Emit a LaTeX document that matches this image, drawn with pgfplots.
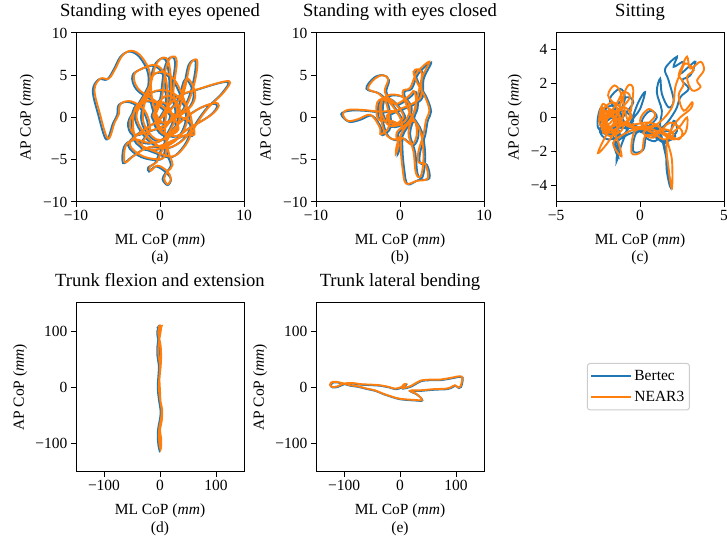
\documentclass[border=0pt]{standalone}
\usepackage{fontspec}
\setmainfont{Liberation Serif}
\usepackage{pgfplots}
\pgfplotsset{compat=1.18}
\definecolor{cB}{HTML}{1F77B4}
\definecolor{cN}{HTML}{FF7F0E}
\newcommand{\fnt}{\fontsize{15.5}{18}\selectfont}
\pgfplotsset{
  cop/.style={
    scale only axis, width=168pt, height=169pt, anchor=south west,
    tick align=outside, tick pos=left, major tick length=5pt,
    every tick/.style={black, line width=1pt},
    axis line style={line width=1pt},
    tick label style={font=\fnt},
    label style={font=\fnt},
    title style={font=\fontsize{18.6}{22}\selectfont, at={(0.5,1)}, anchor=base, yshift=10pt},
    xlabel={ML CoP (\textit{mm})},
    ylabel={AP CoP (\textit{mm})},
    xlabel style={at={(axis description cs:0.5,0)}, anchor=base, yshift=-43pt},
    ylabel style={anchor=center},
  },
  sub/.style={after end axis/.append code={\node[font=\fnt, anchor=base] at (rel axis cs:0.5,0) [yshift=-60pt] {#1};}},
  bert/.style={color=cB, line width=1.9pt, smooth, tension=0.6, no markers},
  near/.style={color=cN, line width=1.9pt, smooth, tension=0.6, no markers},
}
\begin{document}
\begin{tikzpicture}
\useasboundingbox (0pt,0pt) rectangle (727pt,537pt);
% (a)
\begin{axis}[cop, at={(76pt,335pt)}, title={Standing with eyes opened},
  xmin=-10, xmax=10, ymin=-10, ymax=10,
  xtick={-10,0,10}, xticklabels={−10,0,10},
  ytick={-10,-5,0,5,10}, yticklabels={−10,−5,0,5,10},
  ylabel style={at={(axis description cs:-0.292,0.5)}}, sub={(a)}]
\addplot[bert] coordinates {
(0.1,0.1) (1.0,1.7) (1.1,4.4) (0.8,6.5) (0.2,7.0) (-0.7,6.1) (-1.4,3.7) (-2.7,1.4) (-3.8,-0.6) (-3.2,-2.1)
(-1.4,-1.7) (0.6,-0.9) (2.4,0.5) (3.4,2.3) (4.1,4.9) (4.2,6.7) (3.4,6.2) (2.8,3.5) (1.8,0.1) (0.4,-2.5)
(-1.4,-3.1) (-3.2,-2.7) (-4.3,-3.5) (-4.4,-5.4) (-3.4,-4.7) (-1.8,-3.7) (0.0,-3.4) (1.6,-2.7) (3.1,-2.1) (3.9,-2.1)
(3.4,-0.6) (1.0,0.5) (-0.8,1.9) (-2.8,3.3) (-3.3,4.9) (-2.3,5.7) (-0.7,6.1) (0.4,4.9) (0.7,1.9) (0.4,-1.3)
(0.8,-4.1) (1.3,-5.7) (0.7,-6.5) (0.3,-7.3) (0.9,-8.0) (1.3,-7.3) (0.6,-6.4) (-0.5,-5.8) (-1.3,-6.4) (-1.4,-5.9)
(-0.6,-5.4) (0.0,-4.1) (1.6,-1.3) (4.2,0.8) (6.2,1.6) (6.8,1.3) (5.9,0.2) (3.4,-1.3) (1.6,-2.3) (-0.4,-1.1)
(1.6,2.1) (4.8,3.4) (8.0,4.2) (7.4,2.9) (5.4,0.9) (3.9,-1.3) (2.9,-3.3) (1.4,-4.7) (-0.6,-4.2) (-2.8,-3.1)
(-3.4,-1.1) (-3.1,1.1) (-1.7,2.5) (-1.4,5.1) (-2.4,7.1) (-3.6,7.8) (-4.7,7.2) (-5.5,5.7) (-6.3,4.5) (-7.3,4.5)
(-8.0,3.2) (-7.4,0.5) (-6.4,-2.6) (-5.6,-0.7) (-5.1,0.3) (-4.9,1.5) (-3.6,1.8) (-2.0,0.7) (-1.4,-1.5) (-2.4,-3.4)
(-0.8,-3.9) (1.3,-3.1) (2.6,-1.7) (3.1,0.3) (2.4,2.7) (1.4,4.5) (0.0,5.3) (-1.2,4.5) (-1.0,1.4) (0.1,-0.7)
(1.8,0.3) (1.4,2.9) (1.8,6.5) (1.2,7.1) (0.5,5.7) (0.0,2.1) (-0.8,-0.3) (0.3,-2.1) (2.0,-1.5) (0.8,0.7)
(-1.7,1.9) (-3.0,0.1) (-1.8,-2.3) (0.3,-3.7) (2.4,-2.9) (3.6,-1.1) (2.8,1.5) (0.6,3.1) (-1.6,2.5) (-2.2,-0.5)
(-0.6,-2.7) (1.4,-1.9) (2.2,0.7) (0.8,2.5) (-0.8,0.9) (0.0,-1.5) (1.2,0.1) (0.2,1.7) (-1.0,0.1) (0.4,-0.7)
(3.2,0.9) (4.0,2.7) (3.0,4.5) (2.0,1.9) (-0.2,-0.3) (-2.6,-1.9) (-3.8,-3.3) (-2.2,-4.7) (0.2,-4.9) (0.6,-2.9)
};
\addplot[near] coordinates {
(0.3,0.2) (1.2,1.8) (1.3,4.5) (1.0,6.6) (0.4,7.1) (-0.5,6.2) (-1.2,3.8) (-2.5,1.5) (-3.6,-0.5) (-3.0,-2.0)
(-1.2,-1.6) (0.8,-0.8) (2.6,0.6) (3.6,2.4) (4.3,5.0) (4.4,6.8) (3.6,6.3) (3.0,3.6) (2.0,0.2) (0.6,-2.4)
(-1.2,-3.0) (-3.0,-2.6) (-4.1,-3.4) (-4.2,-5.3) (-3.2,-4.6) (-1.6,-3.6) (0.2,-3.3) (1.8,-2.6) (3.3,-2.0) (4.1,-2.0)
(3.6,-0.5) (1.2,0.6) (-0.6,2.0) (-2.6,3.4) (-3.1,5.0) (-2.1,5.8) (-0.5,6.2) (0.6,5.0) (0.9,2.0) (0.6,-1.2)
(1.0,-4.0) (1.5,-5.6) (0.9,-6.4) (0.5,-7.2) (0.9,-7.9) (1.3,-7.2) (0.8,-6.3) (-0.3,-5.7) (-1.1,-6.3) (-1.2,-5.8)
(-0.4,-5.3) (0.2,-4.0) (1.8,-1.2) (4.4,0.9) (6.4,1.7) (7.0,1.4) (6.1,0.3) (3.6,-1.2) (1.8,-2.2) (-0.2,-1.0)
(1.8,2.2) (5.0,3.5) (8.2,4.3) (7.6,3.0) (5.6,1.0) (4.1,-1.2) (3.1,-3.2) (1.6,-4.6) (-0.4,-4.1) (-2.6,-3.0)
(-3.2,-1.0) (-2.9,1.2) (-1.5,2.6) (-1.2,5.2) (-2.2,7.2) (-3.4,7.9) (-4.5,7.3) (-5.3,5.8) (-6.1,4.6) (-7.1,4.6)
(-7.8,3.3) (-7.2,0.6) (-6.2,-2.5) (-5.4,-0.6) (-4.9,0.4) (-4.7,1.6) (-3.4,1.9) (-1.8,0.8) (-1.2,-1.4) (-2.2,-3.3)
(-0.6,-3.8) (1.5,-3.0) (2.8,-1.6) (3.3,0.4) (2.6,2.8) (1.6,4.6) (0.2,5.4) (-1.0,4.6) (-0.8,1.5) (0.3,-0.6)
(2.0,0.4) (1.6,3.0) (2.0,6.6) (1.4,7.2) (0.7,5.8) (0.2,2.2) (-0.6,-0.2) (0.5,-2.0) (2.2,-1.4) (1.0,0.8)
(-1.5,2.0) (-2.8,0.2) (-1.6,-2.2) (0.5,-3.6) (2.6,-2.8) (3.8,-1.0) (3.0,1.6) (0.8,3.2) (-1.4,2.6) (-2.0,-0.4)
(-0.4,-2.6) (1.6,-1.8) (2.4,0.8) (1.0,2.6) (-0.6,1.0) (0.2,-1.4) (1.4,0.2) (0.4,1.8) (-0.8,0.2) (0.6,-0.6)
(3.4,1.0) (4.2,2.8) (3.2,4.6) (2.2,2.0) (0.0,-0.2) (-2.4,-1.8) (-3.6,-3.2) (-2.0,-4.6) (0.4,-4.8) (0.8,-2.8)
};
\end{axis}
% (b)
\begin{axis}[cop, at={(316pt,335pt)}, title={Standing with eyes closed},
  xmin=-10, xmax=10, ymin=-10, ymax=10,
  xtick={-10,0,10}, xticklabels={−10,0,10},
  ytick={-10,-5,0,5,10}, yticklabels={−10,−5,0,5,10},
  ylabel style={at={(axis description cs:-0.292,0.5)}}, sub={(b)}]
\addplot[bert] coordinates {
(0.2,-0.1) (-0.8,1.4) (-1.8,2.1) (-2.0,0.4) (-1.0,-1.1) (0.7,-0.6) (1.4,1.1) (0.4,2.4) (-1.3,2.5) (-2.2,1.1)
(-1.6,-1.9) (-0.3,-2.7) (0.5,-1.6) (-0.2,0.5) (-2.3,0.6) (-4.3,0.8) (-6.0,0.8) (-7.0,0.4) (-6.1,-0.5) (-4.8,-0.3)
(-3.3,0.2) (-2.2,-1.3) (-2.1,-2.1) (-1.1,-1.1) (-1.4,1.5) (-2.4,2.8) (-4.0,3.4) (-3.1,4.7) (-2.0,5.0) (-1.3,4.4)
(-1.6,2.9) (-0.4,1.5) (1.2,2.4) (1.9,3.0) (2.1,1.1) (1.2,-0.6) (-0.2,-1.9) (0.0,-3.4) (-0.3,-4.4) (-0.1,-3.1)
(0.8,-1.3) (1.9,-0.5) (2.2,-2.1) (1.6,-3.3) (0.4,-2.5) (0.3,-3.9) (0.5,-6.1) (0.9,-7.9) (2.2,-7.4) (3.5,-7.2)
(3.2,-5.6) (2.4,-5.4) (2.4,-4.1) (3.0,-2.1) (3.3,-0.4) (3.7,0.7) (3.2,2.3) (2.3,3.9) (1.8,5.3) (2.4,5.6)
(2.8,4.9) (2.4,2.9) (1.8,0.3) (1.2,-1.9) (1.8,-4.1) (2.1,-6.7) (2.7,-7.0) (3.0,-4.6) (2.6,-1.7) (1.4,0.4)
(0.5,2.9) (1.4,3.4) (2.2,5.2) (3.7,6.5) (2.8,4.5) (2.7,2.4) (1.6,1.5) (0.2,0.9) (-1.4,0.1) (-0.6,-0.9)
(0.6,-0.1) (0.0,1.1) (-1.2,2.2) (-2.5,1.7) (-2.4,-0.3) (-0.8,-0.5) (0.4,-1.1)
};
\addplot[near] coordinates {
(0.0,0.0) (-1.0,1.5) (-2.0,2.2) (-2.2,0.5) (-1.2,-1.0) (0.5,-0.5) (1.2,1.2) (0.2,2.5) (-1.5,2.6) (-2.4,1.2)
(-1.8,-1.8) (-0.5,-2.6) (0.3,-1.5) (-0.4,0.6) (-2.5,0.7) (-4.5,0.9) (-6.2,0.9) (-6.8,0.4) (-6.2,-0.4) (-5.0,-0.2)
(-3.5,0.3) (-2.4,-1.2) (-2.3,-2.0) (-1.3,-1.0) (-1.6,1.6) (-2.5,2.8) (-3.8,3.4) (-3.0,4.6) (-2.0,5.0) (-1.4,4.5)
(-1.8,3.0) (-0.6,1.6) (1.0,2.5) (1.7,3.1) (1.9,1.2) (1.0,-0.5) (-0.4,-1.8) (-0.2,-3.3) (-0.5,-4.3) (-0.3,-3.0)
(0.6,-1.2) (1.7,-0.4) (2.0,-2.0) (1.4,-3.2) (0.2,-2.4) (0.1,-3.8) (0.3,-6.0) (0.7,-7.8) (2.0,-7.5) (3.3,-7.2)
(3.0,-5.5) (2.2,-5.3) (2.2,-4.0) (2.8,-2.0) (3.1,-0.3) (3.5,0.8) (3.0,2.4) (2.1,4.0) (1.6,5.4) (2.2,5.7)
(2.6,5.0) (2.2,3.0) (1.6,0.4) (1.0,-1.8) (1.6,-4.0) (1.9,-6.6) (2.5,-6.9) (2.8,-4.5) (2.4,-1.6) (1.2,0.5)
(0.3,3.0) (1.2,3.5) (2.0,5.3) (3.5,6.6) (2.6,4.6) (2.5,2.5) (1.4,1.6) (0.0,1.0) (-1.6,0.2) (-0.8,-0.8)
(0.4,0.0) (-0.2,1.2) (-1.4,2.3) (-2.7,1.8) (-2.6,-0.2) (-1.0,-0.4) (0.2,-1.0)
};
\end{axis}
% (c)
\begin{axis}[cop, at={(556pt,335pt)}, title={Sitting},
  xmin=-5, xmax=5, ymin=-5, ymax=5,
  xtick={-5,0,5}, xticklabels={−5,0,5},
  ytick={-4,-2,0,2,4}, yticklabels={−4,−2,0,2,4},
  ylabel style={at={(axis description cs:-0.244,0.5)}}, sub={(c)}]
\addplot[bert] coordinates {
(-1.6,-0.1) (-2.3,0.6) (-2.5,-0.6) (-1.7,-1.0) (-1.1,0.1) (-1.7,0.7) (-2.4,0.1) (-2.1,-0.9) (-1.3,-0.6) (-1.5,0.5)
(-1.8,1.1) (-1.2,1.7) (-0.9,1.1) (-1.4,-0.3) (-1.3,-1.5) (-1.4,-2.6) (-1.1,-1.6) (-0.6,-0.4) (-0.1,0.9) (0.3,1.5)
(0.0,0.5) (-0.5,-0.3) (0.3,-0.6) (1.0,0.0) (0.6,0.4) (0.1,-0.3) (0.8,-1.0) (1.6,-0.8) (2.1,-1.1) (1.5,-1.4)
(0.7,-0.9) (-0.2,-0.9) (-0.4,-2.0) (0.2,-1.9) (0.4,-1.0) (1.1,-1.1) (1.5,-1.8) (1.6,-3.2) (1.8,-4.1) (1.6,-2.6)
(1.2,-0.6) (1.3,0.4) (1.0,1.5) (1.2,2.3) (1.3,1.4) (1.7,0.6) (2.0,1.0) (1.7,2.2) (1.5,2.9) (2.2,3.6)
(2.0,3.0) (2.6,3.3) (2.4,2.6) (2.9,3.0) (3.3,3.3) (3.0,2.5) (2.5,2.2) (2.9,1.7) (2.4,1.2) (2.1,0.4)
(1.3,-0.6) (0.3,-0.7) (-0.7,-1.0) (-1.5,-1.6) (-1.3,-2.3) (-1.6,-1.1) (-2.2,-0.3) (-2.3,0.5) (-1.7,0.0) (-1.3,-0.3)
(-2.0,-1.0) (-1.9,0.3) (-1.2,-1.0) (-2.1,-0.5) (-1.4,0.3) (-0.8,-0.8) (-1.9,-1.3) (-2.4,-0.7) (-1.7,0.0) (-1.0,0.4)
(-0.4,-0.2) (-1.2,-0.6) (-0.2,-0.6) (0.6,-0.5) (1.3,-0.8) (0.9,-1.4) (0.3,-1.1) (1.1,-0.7) (1.7,-1.2) (2.2,-0.8)
(2.0,-0.2) (1.6,-1.5) (0.8,-1.1) (-0.1,-0.8) (-1.0,-0.3) (-1.8,0.2) (-2.3,-0.2) (-1.5,-0.6) (-0.9,0.2) (-0.4,0.9)
(-0.8,1.2) (-1.5,0.6) (-2.1,-0.2)
};
\addplot[near] coordinates {
(-1.5,0.0) (-2.2,0.8) (-2.4,-0.4) (-1.6,-0.9) (-1.0,0.2) (-1.6,0.9) (-2.3,0.3) (-2.0,-0.7) (-1.2,-0.5) (-1.4,0.6)
(-1.9,1.3) (-1.5,1.9) (-1.1,1.2) (-1.5,-0.2) (-2.1,-1.2) (-2.5,-2.1) (-2.0,-1.6) (-1.3,-0.6) (-0.7,-0.2) (-0.4,1.6)
(-0.7,1.9) (-1.0,1.0) (-0.6,-0.4) (0.2,-0.5) (0.9,0.1) (0.5,0.5) (0.0,-0.2) (0.7,-0.9) (1.5,-0.7) (2.0,-1.0)
(1.4,-1.3) (0.6,-0.8) (-0.3,-0.8) (-0.5,-2.1) (0.1,-2.0) (0.3,-1.1) (1.0,-1.0) (1.8,-0.3) (2.5,-0.8) (2.3,-1.3)
(1.6,-1.1) (1.9,-2.5) (1.9,-4.2) (1.7,-3.0) (1.6,-1.4) (2.2,-0.2) (3.0,0.5) (3.1,0.9) (2.6,0.4) (2.3,1.3)
(2.6,2.0) (2.3,2.5) (2.5,3.0) (2.8,3.6) (3.0,2.9) (3.6,3.3) (3.8,2.8) (3.4,2.2) (3.6,1.8) (3.1,1.6)
(2.8,2.4) (3.2,2.8) (2.7,3.2) (2.4,2.6) (2.1,1.8) (1.9,0.6) (1.0,-0.4) (0.0,-0.6) (-0.8,-0.9) (-1.6,-1.5)
(-1.1,-2.3) (-1.4,-1.2) (-2.1,-0.2) (-2.3,0.6) (-1.8,0.1) (-1.2,-0.2) (-1.9,-0.6) (-2.4,0.1) (-1.7,0.4) (-1.2,0.1)
(-1.6,-0.4) (-2.2,-0.9) (-1.8,0.5) (-1.3,-0.9) (-2.0,-0.3) (-1.5,0.4) (-1.0,-0.6) (-1.8,-1.1) (-2.3,-0.5) (-1.6,0.2)
(-0.9,0.6) (-0.5,0.0) (-1.1,-0.4) (-0.3,-0.4) (0.5,-0.3) (1.2,-0.6) (0.8,-1.2) (0.2,-0.9) (1.0,-0.5) (1.6,-1.0)
(2.3,-0.6) (2.8,0.0) (2.7,-0.9) (2.0,-1.3) (1.2,-0.9) (0.4,-0.6) (-0.5,-0.6) (-1.4,-0.1) (-2.1,0.4) (-1.9,-0.4)
(-1.3,0.3) (-0.6,1.2) (-1.0,1.5) (-1.4,0.8) (-2.0,0.0)
};
\end{axis}
% (d)
\begin{axis}[cop, at={(76pt,65pt)}, title={Trunk flexion and extension},
  xmin=-150, xmax=150, ymin=-150, ymax=150,
  xtick={-100,0,100}, xticklabels={−100,0,100},
  ytick={-100,0,100}, yticklabels={−100,0,100},
  ylabel style={at={(axis description cs:-0.333,0.5)}}, sub={(d)}]
\addplot[bert] coordinates {
(-5,105) (-2,109) (0,107) (-1,97) (-4,79) (-5,59) (-2,39) (-3,19) (-4,-1) (-2,-21) (1,-41) (0,-56) (-3,-71)
(-4,-86) (-3,-101) (-1,-111) (0,-105) (0,-91) (-2,-76) (1,-61) (2,-41) (-1,-26) (-2,-6) (-3,14) (-1,34)
(0,54) (-1,74) (-4,89) (-5,99) (-2,107) (1,108) (-1,103)
};
\addplot[near] coordinates {
(-3,106) (0,110) (2,108) (1,98) (-2,80) (-3,60) (0,40) (-1,20) (-2,0) (0,-20) (3,-40) (2,-55) (-1,-70)
(-2,-85) (-1,-100) (1,-110) (2,-104) (2,-90) (0,-75) (3,-60) (4,-40) (1,-25) (0,-5) (-1,15) (1,35)
(2,55) (1,75) (-2,90) (-3,100) (0,108) (3,109) (1,104)
};
\end{axis}
% (e)
\begin{axis}[cop, at={(316pt,65pt)}, title={Trunk lateral bending},
  xmin=-150, xmax=150, ymin=-150, ymax=150,
  xtick={-100,0,100}, xticklabels={−100,0,100},
  ytick={-100,0,100}, yticklabels={−100,0,100},
  ylabel style={at={(axis description cs:-0.333,0.5)}}, sub={(e)},
  legend style={at={(rel axis cs:1.613,0.645)}, anchor=north west, draw=black!20, line width=1pt,
    rounded corners=2.5pt, font=\fnt, inner xsep=3pt, inner ysep=5pt, row sep=5pt,
    legend cell align=left},
  legend image code/.code={\draw[#1, line width=1.9pt, sharp plot] (0pt,0pt) -- (32pt,0pt); \path (0pt,0pt) -- (40pt,0pt);}]
\addplot[bert] coordinates {
(-121,9) (-124,4) (-120,0) (-111,1) (-99,6) (-84,7) (-70,5) (-49,4) (-35,3) (-19,0) (-8,-3) (1,-1) (7,1)
(11,5) (7,4) (5,-2) (21,2) (37,11) (56,13) (72,13) (91,16) (109,19) (112,14) (109,1) (105,-1) (99,3)
(91,-1) (84,-3) (61,-4) (37,-6) (26,-6) (19,-7) (31,-13) (40,-23) (26,-23) (1,-21) (-14,-17) (-29,-12)
(-44,-6) (-58,-3) (-74,1) (-88,3) (-99,6) (-112,9) (-119,9) (-123,6) (-123,2)
};
\addlegendentry{Bertec}
\addplot[near] coordinates {
(-122,10) (-125,5) (-121,1) (-112,2) (-100,7) (-85,8) (-71,6) (-50,5) (-36,4) (-20,1) (-9,-2) (0,0) (6,2)
(10,6) (6,5) (4,-1) (20,3) (36,12) (55,14) (71,14) (90,17) (108,20) (111,15) (108,2) (104,0) (98,4)
(90,0) (83,-2) (60,-3) (36,-5) (25,-5) (18,-6) (30,-12) (39,-22) (25,-22) (0,-20) (-15,-16) (-30,-11)
(-45,-5) (-59,-2) (-75,2) (-89,4) (-100,7) (-113,10) (-120,10) (-124,7) (-124,3)
};
\addlegendentry{NEAR3}
\end{axis}
\end{tikzpicture}
\end{document}
